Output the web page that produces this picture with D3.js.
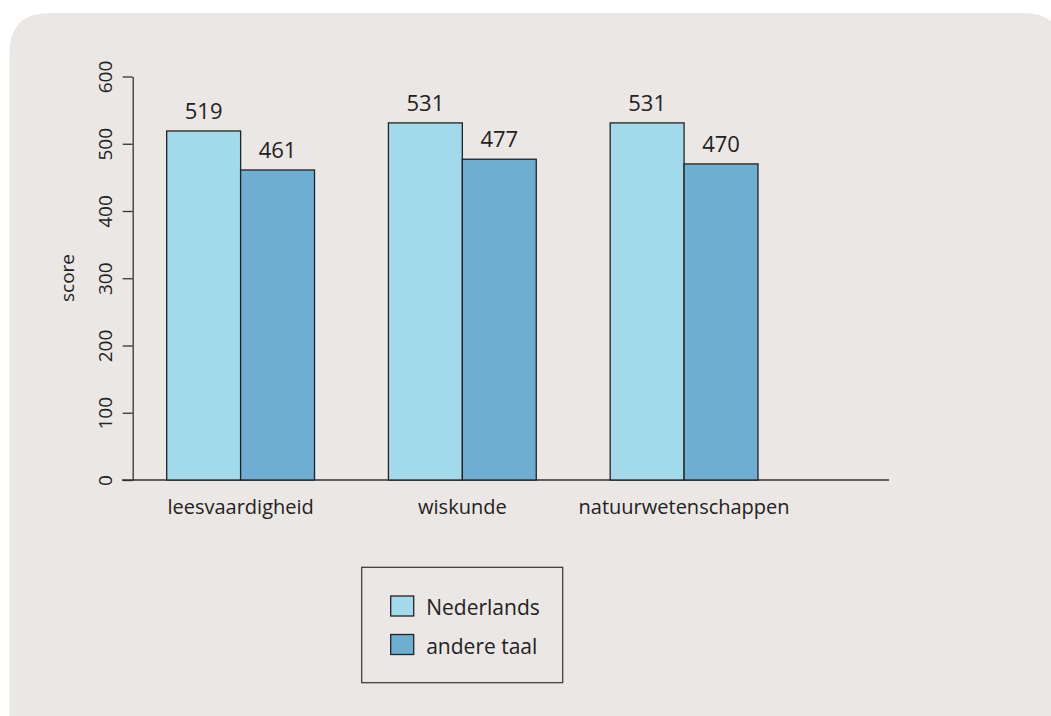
<!DOCTYPE html>
<html>
<head>
<meta charset="utf-8">
<script src="https://cdn.jsdelivr.net/npm/d3@7/dist/d3.min.js"></script>
<style>
  html, body { margin: 0; padding: 0; background: #ffffff; overflow: hidden; }
  svg { display: block; }
  text { font-family: "Open Sans", "Noto Sans", sans-serif; fill: #222; }
</style>
</head>
<body>
<svg id="chart" width="1051" height="716"></svg>
<script>
const categories = ["leesvaardigheid", "wiskunde", "natuurwetenschappen"];
const seriesNames = ["Nederlands", "andere taal"];
const nederlands = [519, 531, 531];
const andereTaal = [461, 477, 470];
const yTicks = [0, 100, 200, 300, 400, 500, 600];
const colors = ["#a2d9eb", "#6eaed1"];

const svg = d3.select("#chart");

// background panel with rounded top corners
const px0 = 9.5, py0 = 13, px1 = 1063, py1 = 730, r = 40;
svg.append("path")
  .attr("d", `M${px0},${py1} L${px0},${py0 + r} Q${px0},${py0} ${px0 + r},${py0} L${px1 - r},${py0} Q${px1},${py0} ${px1},${py0 + r} L${px1},${py1} Z`)
  .attr("fill", "#ebe7e4");

const y = d3.scaleLinear().domain([0, 600]).range([480, 76.5]);
const x = d3.scaleBand().domain(categories).range([166.7, 758]).paddingInner(1/3).paddingOuter(0);
const xs = d3.scaleBand().domain(seriesNames).range([0, x.bandwidth()]);
const color = d3.scaleOrdinal().domain(seriesNames).range(colors);

const rows = categories.map((c, i) => ({ cat: c, values: [
  { s: seriesNames[0], v: nederlands[i] },
  { s: seriesNames[1], v: andereTaal[i] }
]}));

// y axis
const yAxis = svg.append("g")
  .attr("transform", "translate(132.7,0)")
  .call(d3.axisLeft(y).tickValues(yTicks).tickSize(10).tickSizeOuter(0).tickPadding(8));
yAxis.select(".domain").attr("stroke", "#333").attr("stroke-width", 1.3);
yAxis.selectAll(".tick line").attr("stroke", "#333").attr("stroke-width", 1.3);
yAxis.selectAll(".tick text")
  .attr("font-size", 19)
  .attr("font-family", "Open Sans, sans-serif")
  .attr("fill", "#222")
  .attr("transform", "rotate(-90)")
  .attr("x", 0)
  .attr("y", -20.5)
  .attr("dy", 0)
  .attr("text-anchor", "middle");

// y axis title
svg.append("text")
  .attr("transform", "translate(74,278) rotate(-90)")
  .attr("text-anchor", "middle")
  .attr("font-size", 19)
  .text("score");

// baseline
svg.append("line")
  .attr("x1", 122).attr("x2", 889)
  .attr("y1", y(0)).attr("y2", y(0))
  .attr("stroke", "#333").attr("stroke-width", 1.5);

// bars
const groups = svg.append("g").selectAll("g")
  .data(rows).join("g")
  .attr("transform", d => `translate(${x(d.cat)},0)`);

groups.selectAll("rect")
  .data(d => d.values).join("rect")
  .attr("x", d => xs(d.s))
  .attr("y", d => y(d.v))
  .attr("width", xs.bandwidth())
  .attr("height", d => y(0) - y(d.v))
  .attr("fill", d => color(d.s))
  .attr("stroke", "#222")
  .attr("stroke-width", 1.3);

groups.selectAll("text.val")
  .data(d => d.values).join("text")
  .attr("class", "val")
  .attr("x", d => xs(d.s) + xs.bandwidth() / 2)
  .attr("y", d => y(d.v) - 12)
  .attr("text-anchor", "middle")
  .attr("font-size", 22)
  .text(d => d.v);

// category labels
svg.append("g").selectAll("text")
  .data(categories).join("text")
  .attr("x", d => x(d) + x.bandwidth() / 2)
  .attr("y", 514)
  .attr("text-anchor", "middle")
  .attr("font-size", 20)
  .text(d => d);

// legend
const lg = svg.append("g");
lg.append("rect")
  .attr("x", 361.7).attr("y", 567.3)
  .attr("width", 201).attr("height", 115.4)
  .attr("fill", "none").attr("stroke", "#333").attr("stroke-width", 1.2);
const items = lg.selectAll("g.item").data(seriesNames).join("g")
  .attr("class", "item")
  .attr("transform", (d, i) => `translate(390.7,${596 + i * 38.5})`);
items.append("rect")
  .attr("width", 23).attr("height", 20)
  .attr("fill", d => color(d))
  .attr("stroke", "#222").attr("stroke-width", 1.3);
items.append("text")
  .attr("x", 35.5).attr("y", 19)
  .attr("font-size", 21)
  .text(d => d);
</script>
</body>
</html>
